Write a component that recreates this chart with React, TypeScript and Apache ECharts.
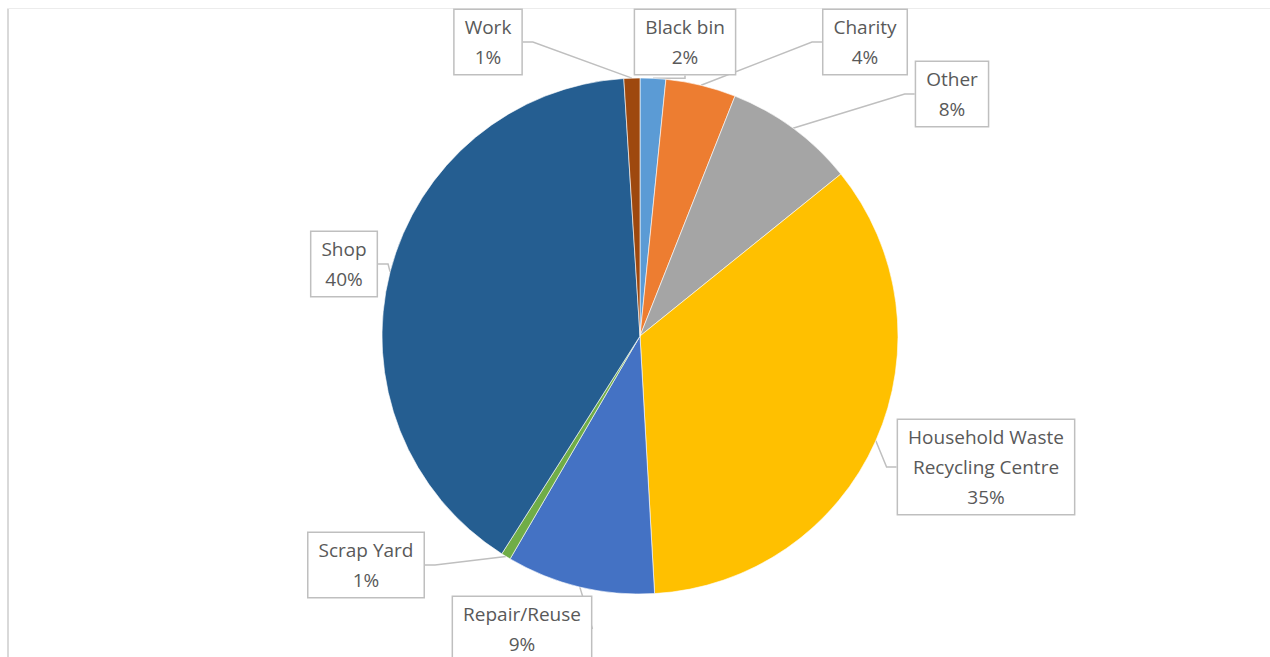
import React, { useEffect, useRef } from "react";
import * as echarts from "echarts";

const categories = ["Black bin", "Charity", "Other", "Household Waste Recycling Centre", "Repair/Reuse", "Scrap Yard", "Shop", "Work"];
const labelNames = ["Black bin", "Charity", "Other", "Household Waste\nRecycling Centre", "Repair/Reuse", "Scrap Yard", "Shop", "Work"];
const values = [1.6, 4.4, 8.2, 34.9, 9.3, 0.6, 40.0, 1.0];
const colors = ["#5B9BD5", "#ED7D31", "#A5A5A5", "#FFC000", "#4472C4", "#70AD47", "#255E91", "#9E480E"];
const labelPos: [number, number][] = [
  [685, 42],
  [865, 42],
  [952, 94],
  [986, 467],
  [522, 629],
  [366, 565],
  [344, 264],
  [488, 42],
];

export default function App() {
  const ref = useRef<HTMLDivElement>(null);
  useEffect(() => {
    if (!ref.current) return;
    const chart = echarts.init(ref.current, undefined, { renderer: "svg" });
    chart.setOption({
      animation: false,
      backgroundColor: "#ffffff",
      graphic: [
        { type: "rect", shape: { x: 7, y: 8, width: 2, height: 660 }, style: { fill: "#d9d9d9" }, silent: true },
        { type: "rect", shape: { x: 7, y: 8, width: 1270, height: 1 }, style: { fill: "#ececec" }, silent: true },
      ],
      series: [
        {
          type: "pie",
          center: [640, 336],
          radius: 258,
          startAngle: 90,
          clockwise: true,
          percentPrecision: 0,
          data: categories.map((c, i) => ({ name: c, value: values[i], itemStyle: { color: colors[i] } })),
          itemStyle: { borderColor: "#ffffff", borderWidth: 0.6 },
          label: {
            show: true,
            position: "outside",
            formatter: (p: any) => labelNames[p.dataIndex] + "\n" + Math.round(p.percent) + "%",
            fontFamily: "'Open Sans', sans-serif",
            fontSize: 19,
            lineHeight: 30,
            color: "#595959",
            align: "center",
            backgroundColor: "#ffffff",
            borderColor: "#bfbfbf",
            borderWidth: 1.5,
            padding: [2, 10, 2, 10],
          },
          labelLine: { show: true, length: 10, length2: 10, lineStyle: { color: "#bfbfbf", width: 1.5 } },
          labelLayout: (params: any) => {
            const p = labelPos[params.dataIndex];
            return { x: p[0], y: p[1], align: "center", verticalAlign: "middle" };
          },
        },
      ],
    });
    return () => chart.dispose();
  }, []);
  return <div ref={ref} style={{ position: "fixed", left: 0, top: 0, width: 1270, height: 657 }} />;
}
